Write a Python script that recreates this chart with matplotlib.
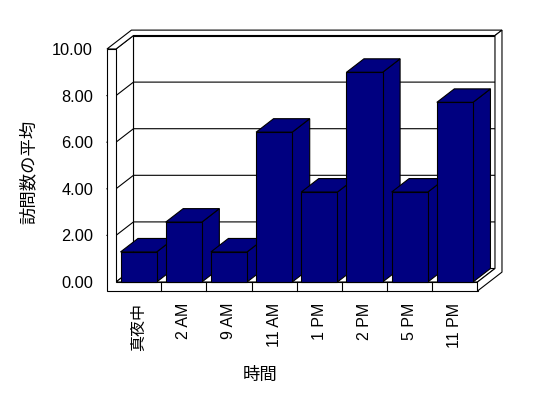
import numpy as np
import matplotlib
matplotlib.use('Agg')
import matplotlib.pyplot as plt
from matplotlib.patches import Polygon

categories = ['真夜中', '2 AM', '9 AM', '11 AM', '1 PM', '2 PM', '5 PM', '11 PM']
values = [1.29, 2.57, 1.29, 6.43, 3.86, 9.00, 3.86, 7.71]
yticks = [0, 2, 4, 6, 8, 10]
ylabel = '訪問数の平均'
xlabel = '時間'

plt.rcParams['font.family'] = ['Liberation Sans', 'Noto Sans CJK JP', 'DejaVu Sans']

W, H = 548, 398
fig = plt.figure(figsize=(W / 100, H / 100), dpi=100)
fig.patch.set_facecolor('white')
ax = fig.add_axes([116 / W, (H - 282) / H, (477.5 - 116) / W, (282 - 49) / H])
n = len(categories)
ymax = yticks[-1]
ax.set_xlim(0, n)
ax.set_ylim(0, ymax)
ax.patch.set_visible(False)
for s in ax.spines.values():
    s.set_visible(False)

# oblique projection: shift per unit depth, in data units
kx, ky = 0.387, 0.579
D, TB, T, TF = 1.0, 0.4, 0.2, 0.386
LW = 0.8
NAVY = '#000080'


def P(x, y, z):
    return (x + kx * z, y + ky * z)


def face(pts, fc='white', zo=1):
    ax.add_patch(Polygon([P(*p) for p in pts], closed=True, facecolor=fc,
                         edgecolor='black', lw=LW, zorder=zo, clip_on=False,
                         joinstyle='miter'))


def line(pts, zo=2):
    xy = np.array([P(*p) for p in pts])
    ax.plot(xy[:, 0], xy[:, 1], color='black', lw=LW, zorder=zo, clip_on=False,
            solid_joinstyle='miter')


# walls and floor
face([(0, 0, D), (n, 0, D), (n, ymax, D), (0, ymax, D)])
face([(0, 0, 0), (0, 0, D), (0, ymax, D), (0, ymax, 0)])
face([(0, 0, 0), (n, 0, 0), (n, 0, D), (0, 0, D)])
face([(-T, ymax, 0), (0, ymax, 0), (0, ymax, D), (n, ymax, D),
      (n, ymax, D + TB), (-T, ymax, D + TB)], zo=3)
face([(-T, -TF, 0), (n, -TF, 0), (n, 0, 0), (0, 0, 0), (0, ymax, 0),
      (-T, ymax, 0)], zo=3)
face([(n, 0, 0), (n, -TF, 0), (n, -TF, D + TB), (n, ymax, D + TB),
      (n, ymax, D), (n, 0, D)], zo=3)

# gridlines
for v in yticks[1:-1]:
    line([(-T, v, 0), (0, v, 0), (0, v, D), (n, v, D)], zo=2)
# category dividers on floor front
for i in range(1, n):
    line([(i, 0, 0), (i, -TF, 0)], zo=4)

# bars
bw = 0.8
for i, v in enumerate(values):
    x0 = i + (1 - bw) / 2
    x1 = x0 + bw
    zo = 10 + i
    face([(x1, 0, 0), (x1, v, 0), (x1, v, D), (x1, 0, D)], fc=NAVY, zo=zo)
    face([(x0, v, 0), (x1, v, 0), (x1, v, D), (x0, v, D)], fc=NAVY, zo=zo)
    ax.bar(i + 0.5, v, width=bw, color=NAVY, edgecolor='black', lw=LW,
           zorder=zo + 0.5, clip_on=False)

ax.set_xticks(np.arange(n) + 0.5, categories, rotation=90, fontsize=11.5)
ax.set_yticks(yticks, [f'{v:.2f}' for v in yticks], fontsize=11.8)
ax.tick_params(axis='x', length=0, pad=15)
ax.tick_params(axis='y', length=0, pad=16.5)

ax.text(-0.243, 0.472, ylabel, rotation=90, ha='center', va='center',
        fontsize=12.5, transform=ax.transAxes)
ax.text(0.398, -0.399, xlabel, ha='center', va='center', fontsize=12.5,
        transform=ax.transAxes)

fig.savefig('out.png', dpi=100, facecolor='white')
